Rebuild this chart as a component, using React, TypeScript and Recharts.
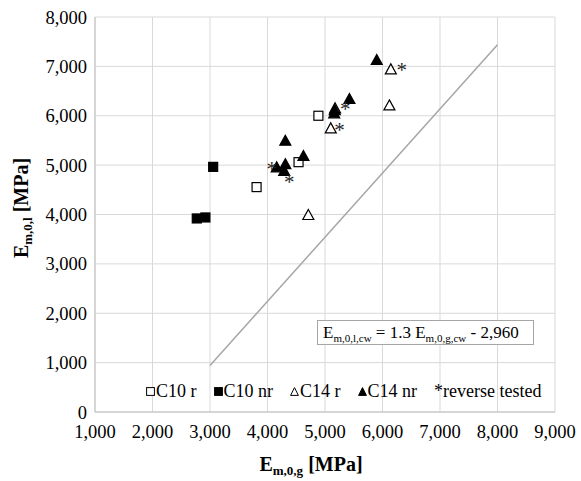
import React from 'react';
import {
  ScatterChart,
  Scatter,
  XAxis,
  YAxis,
  CartesianGrid,
  Legend,
  ReferenceLine,
  Label,
} from 'recharts';

const xTicks = [1000, 2000, 3000, 4000, 5000, 6000, 7000, 8000, 9000];
const yTicks = [0, 1000, 2000, 3000, 4000, 5000, 6000, 7000, 8000];

// C10 / C14, r and nr specimens (E_m,0,g vs E_m,0,l)
const c10r = [
  { x: 3810, y: 4555 },
  { x: 4540, y: 5060 },
  { x: 4885, y: 6000 },
];
const c10nr = [
  { x: 2770, y: 3920 },
  { x: 2920, y: 3940 },
  { x: 3055, y: 4965 },
];
const c14r = [
  { x: 4710, y: 3990 },
  { x: 5100, y: 5745 },
  { x: 5175, y: 6150 },
  { x: 6120, y: 6210 },
  { x: 6145, y: 6940 },
];
const c14nr = [
  { x: 4160, y: 4955 },
  { x: 4290, y: 4885 },
  { x: 4310, y: 5020 },
  { x: 4310, y: 5495 },
  { x: 4625, y: 5185 },
  { x: 5160, y: 6050 },
  { x: 5170, y: 6115 },
  { x: 5425, y: 6340 },
  { x: 5900, y: 7130 },
];
// where the "*" labels of the reverse tested specimens sit
const reverseTested = [
  { x: 4075, y: 4985 },
  { x: 4380, y: 4715 },
  { x: 5250, y: 5765 },
  { x: 5350, y: 6200 },
  { x: 6335, y: 6995 },
];
// trend line ends
const fitLine = [
  { x: 3000, y: 940 },
  { x: 8000, y: 7440 },
];
const legendLabels = ['C10 r', 'C10 nr', 'C14 r', 'C14 nr', '*reverse tested'];

const FONT = '"Liberation Serif", "Times New Roman", serif';
const fmt = (v: number) => v.toLocaleString('en-US');

const Square = ({ cx, cy, filled }: any) => (
  <rect
    x={cx - 4.5}
    y={cy - 4.5}
    width={9}
    height={9}
    fill={filled ? '#000' : '#fff'}
    stroke="#000"
    strokeWidth={1.2}
  />
);

const Triangle = ({ cx, cy, filled }: any) => (
  <path
    d={`M${cx},${cy - 5.5}L${cx + 5.5},${cy + 4.5}L${cx - 5.5},${cy + 4.5}Z`}
    fill={filled ? '#000' : '#fff'}
    stroke="#000"
    strokeWidth={1.2}
  />
);

const Star = ({ cx, cy }: any) => (
  <text x={cx} y={cy + 10} textAnchor="middle" fontSize={21} fill="#262626" fontFamily={FONT}>
    *
  </text>
);

// small legend markers, same order as legendLabels
const legendIcon = (i: number) => {
  if (i === 0 || i === 1) {
    return (
      <svg width={9} height={9} style={{ marginRight: 1 }}>
        <rect x={0.6} y={0.6} width={7.8} height={7.8} fill={i === 1 ? '#000' : '#fff'} stroke="#000" strokeWidth={1} />
      </svg>
    );
  }
  if (i === 2 || i === 3) {
    return (
      <svg width={9} height={9} style={{ marginRight: 1 }}>
        <path d="M4.5,0.6L8.4,8.4L0.6,8.4Z" fill={i === 3 ? '#000' : '#fff'} stroke="#000" strokeWidth={1} />
      </svg>
    );
  }
  return null;
};

const CustomLegend = () => (
  <div style={{ display: 'flex', gap: 17, fontFamily: FONT, fontSize: 18, lineHeight: '20px', color: '#000' }}>
    {legendLabels.map((label, i) => (
      <div key={label} style={{ display: 'flex', alignItems: 'center', whiteSpace: 'nowrap' }}>
        {legendIcon(i)}
        <span>{label}</span>
      </div>
    ))}
  </div>
);

const XTitle = ({ viewBox }: any) => (
  <text
    x={viewBox.x + viewBox.width / 2 - 14}
    y={viewBox.y + 59}
    textAnchor="middle"
    fontFamily={FONT}
    fontWeight="bold"
    fontSize={20}
    fill="#000"
  >
    E<tspan fontSize={13} dy={4}>m,0,g</tspan>
    <tspan dy={-4}> [MPa]</tspan>
  </text>
);

const YTitle = () => {
  const cx = 28;
  const cy = 208;
  return (
    <text
      x={cx}
      y={cy}
      transform={`rotate(-90 ${cx} ${cy})`}
      textAnchor="middle"
      fontFamily={FONT}
      fontWeight="bold"
      fontSize={20}
      fill="#000"
    >
      E<tspan fontSize={13} dy={4}>m,0,l</tspan>
      <tspan dy={-4}> [MPa]</tspan>
    </text>
  );
};

const sub = { fontSize: 11, position: 'relative' as const, top: 4 };

export default function App() {
  return (
    <div style={{ position: 'absolute', left: 0, top: 0, width: 581, height: 481, background: '#fff' }}>
      <ScatterChart width={581} height={481} margin={{ top: 17, right: 26, left: 0, bottom: 0 }}>
        <CartesianGrid stroke="#d9d9d9" strokeWidth={1} />
        <XAxis
          type="number"
          dataKey="x"
          domain={[1000, 9000]}
          ticks={xTicks}
          tickFormatter={fmt}
          height={69}
          tickLine={false}
          tickMargin={7}
          axisLine={{ stroke: '#bfbfbf' }}
          tick={{ fill: '#000', fontSize: 18.5, fontFamily: FONT }}
          interval={0}
        >
          <Label content={XTitle} />
        </XAxis>
        <YAxis
          type="number"
          dataKey="y"
          domain={[0, 8000]}
          ticks={yTicks}
          tickFormatter={fmt}
          width={95}
          tickLine={false}
          axisLine={{ stroke: '#bfbfbf' }}
          tick={{ fill: '#000', fontSize: 18.5, fontFamily: FONT }}
          interval={0}
        >
          <Label content={YTitle} />
        </YAxis>
        <ReferenceLine
          segment={fitLine}
          stroke="#a6a6a6"
          strokeWidth={1.5}
          ifOverflow="visible"
        />
        <Scatter name="C10 r" data={c10r} isAnimationActive={false} shape={(p: any) => <Square {...p} filled={false} />} />
        <Scatter name="C10 nr" data={c10nr} isAnimationActive={false} shape={(p: any) => <Square {...p} filled />} />
        <Scatter name="C14 r" data={c14r} isAnimationActive={false} shape={(p: any) => <Triangle {...p} filled={false} />} />
        <Scatter name="C14 nr" data={c14nr} isAnimationActive={false} shape={(p: any) => <Triangle {...p} filled />} />
        <Scatter name="reverse tested" data={reverseTested} isAnimationActive={false} shape={(p: any) => <Star {...p} />} />
        <Legend
          layout="horizontal"
          verticalAlign="middle"
          align="center"
          content={<CustomLegend />}
          wrapperStyle={{ top: 381, left: 146, width: 420, height: 20 }}
        />
      </ScatterChart>
      <div
        style={{
          position: 'absolute',
          left: 317,
          top: 320,
          width: 210,
          height: 23,
          border: '1px solid #a6a6a6',
          background: '#fff',
          fontFamily: FONT,
          fontSize: 17,
          lineHeight: '23px',
          paddingLeft: 5,
          boxSizing: 'content-box',
          whiteSpace: 'nowrap',
          color: '#000',
        }}
      >
        E<span style={sub}>m,0,l,cw</span> = 1.3 E<span style={sub}>m,0,g,cw</span> - 2,960
      </div>
    </div>
  );
}
